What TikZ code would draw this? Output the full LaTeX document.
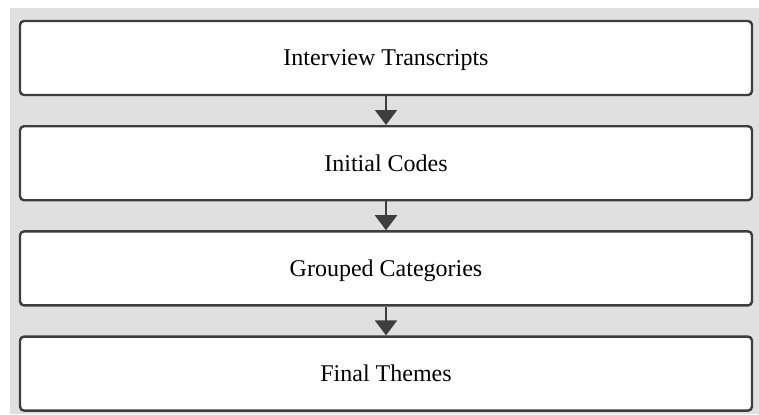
\documentclass[tikz,border=0pt]{standalone}
\usepackage{fontspec}
\setmainfont{Liberation Serif}
\usetikzlibrary{arrows.meta,positioning}
\definecolor{bggray}{RGB}{224,224,224}
\definecolor{edgegray}{RGB}{62,62,62}

\tikzset{
  stage/.style={draw=edgegray, line width=1.2pt, fill=white, rounded corners=2pt,
    minimum width=366pt, minimum height=37pt, text height=7.9pt, text depth=0pt,
    font=\fontsize{12}{14}\selectfont},
  flow/.style={draw=edgegray, line width=1pt, -{Triangle[width=11pt,length=7.5pt]}}
}

\begin{document}
\begin{tikzpicture}[node distance=14.4pt]
\useasboundingbox (0,0) rectangle (379.5pt,-207pt);
\fill [bggray] (5pt,-4pt) rectangle (379.5pt,-207pt);

\node [stage] (transcripts) at (193pt,-29pt) {Interview Transcripts};
\node [stage, below=of transcripts] (codes) {Initial Codes};
\node [stage, below=of codes] (categories) {Grouped Categories};
\node [stage, below=of categories] (themes) {Final Themes};

\draw [flow] (transcripts) -- (codes);
\draw [flow] (codes) -- (categories);
\draw [flow] (categories) -- (themes);

\end{tikzpicture}
\end{document}
